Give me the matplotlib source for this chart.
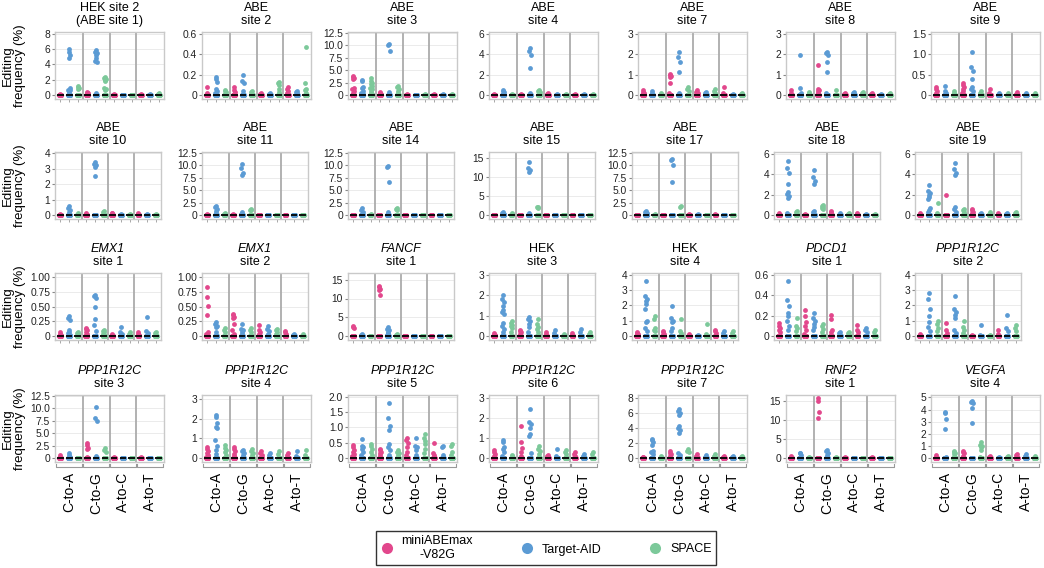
import matplotlib.pyplot as plt
from matplotlib.lines import Line2D
import numpy as np

plt.rcParams['font.family'] = ['Liberation Sans', 'DejaVu Sans']

# ---- data ----
groups = ['C-to-A', 'C-to-G', 'A-to-C', 'A-to-T']
editors = ['miniABEmax\n-V82G', 'Target-AID', 'SPACE']
colors = ['#E2478C', '#5B9BD4', '#7CC99A']

title_top = ['HEK site 2', 'ABE', 'ABE', 'ABE', 'ABE', 'ABE', 'ABE',
             'ABE', 'ABE', 'ABE', 'ABE', 'ABE', 'ABE', 'ABE',
             'EMX1', 'EMX1', 'FANCF', 'HEK', 'HEK', 'PDCD1', 'PPP1R12C',
             'PPP1R12C', 'PPP1R12C', 'PPP1R12C', 'PPP1R12C', 'PPP1R12C', 'RNF2', 'VEGFA']
title_bottom = ['(ABE site 1)', 'site 2', 'site 3', 'site 4', 'site 7', 'site 8', 'site 9',
                'site 10', 'site 11', 'site 14', 'site 15', 'site 17', 'site 18', 'site 19',
                'site 1', 'site 2', 'site 1', 'site 3', 'site 4', 'site 1', 'site 2',
                'site 3', 'site 4', 'site 5', 'site 6', 'site 7', 'site 1', 'site 4']
italic_genes = ['EMX1', 'FANCF', 'PDCD1', 'PPP1R12C', 'RNF2', 'VEGFA']

t125 = ['0', '2.5', '5.0', '7.5', '10.0', '12.5']
t15 = ['0', '5', '10', '15']
t3 = ['0', '1', '2', '3']
t4 = ['0', '1', '2', '3', '4']
t6 = ['0', '2', '4', '6']
t8 = ['0', '2', '4', '6', '8']
t06 = ['0', '0.2', '0.4', '0.6']
t1 = ['0', '0.25', '0.50', '0.75', '1.00']
ytick_labels = [t8, t06, t125, t6, t3, t3, ['0', '0.5', '1.0', '1.5'],
                t4, t125, t125, t15, t125, t6, t6,
                t1, t1, t15, t3, t4, t06, t4,
                t125, t3, ['0', '0.5', '1.0', '1.5', '2.0'], t3, t8, t15, ['0', '1', '2', '3', '4', '5']]
ytop = [8.26, 0.62, 12.7, 6.2, 3.1, 3.1, 1.55,
        4.07, 12.7, 12.7, 16.6, 12.7, 6.2, 6.2,
        1.07, 1.07, 16.8, 3.1, 4.13, 0.62, 4.13,
        12.7, 3.2, 2.06, 3.15, 8.4, 16.7, 5.2]

# non-zero values per panel, groups in order C-to-A, C-to-G, A-to-C, A-to-T
mini = [
    [[0.1, 0.05], [0.4, 0.3, 0.2, 0.1], [0.1, 0.05], [0.1, 0.05]],  # HEK site 2
    [[0.08, 0.02], [0.08, 0.05, 0.03, 0.01], [0.02, 0.01], [0.08, 0.06, 0.04, 0.02]],  # ABE 2
    [[3.8, 3.6, 3.4, 3.2, 1.5, 1.2, 0.8, 0.5, 0.2], [0.6, 0.4, 0.2], [0.3, 0.1], [0.3, 0.1]],  # ABE 3
    [[0.1], [0.1], [0.2, 0.1], [0.1]],  # ABE 4
    [[0.25, 0.15, 0.1], [1.05, 1.0, 0.95, 0.9, 0.6, 0.1], [0.25, 0.15, 0.1], [0.4, 0.1]],  # ABE 7
    [[0.25, 0.1], [1.5, 0.3, 0.25, 0.2, 0.1], [0.1, 0.05], [0.1, 0.05]],  # ABE 8
    [[0.2, 0.15, 0.1, 0.05], [0.3, 0.25, 0.2, 0.15, 0.1, 0.05], [0.15, 0.05], [0.08, 0.03]],  # ABE 9
    [[0.05], [0.1], [0.15, 0.1], [0.1, 0.05]],  # ABE 10
    [[0.3, 0.1], [0.2], [0.1], [0.1]],  # ABE 11
    [[0.1], [0.1], [0.1], [0.1]],  # ABE 14
    [[0.1], [0.1], [0.1], [0.1]],  # ABE 15
    [[0.1], [0.1], [0.2], [0.3]],  # ABE 17
    [[0.2], [0.1], [0.4, 0.3], [0.15, 0.1]],  # ABE 18
    [[0.15], [2.0], [0.6, 0.5, 0.3, 0.2], [0.2, 0.1]],  # ABE 19
    [[0.06, 0.04, 0.02], [0.14, 0.12, 0.1, 0.07, 0.04], [0.04, 0.02], [0.06, 0.04, 0.02]],  # EMX1 1
    [[0.84, 0.67, 0.51, 0.35, 0.06, 0.03], [0.37, 0.35, 0.33, 0.3, 0.2, 0.1, 0.03],
     [0.18, 0.1, 0.07, 0.04], [0.08, 0.06, 0.04]],  # EMX1 2
    [[2.8, 2.5, 2.2], [13.3, 13.0, 12.5, 12.2, 11.0], [0.1], [0.1]],  # FANCF 1
    [[0.15, 0.1, 0.05], [0.3, 0.25, 0.2, 0.1], [0.2, 0.1], [0.15, 0.05]],  # HEK 3
    [[0.25, 0.2, 0.1], [0.3, 0.25, 0.1], [0.1], [0.4, 0.3, 0.2]],  # HEK 4
    [[0.13, 0.1, 0.08, 0.06, 0.04], [0.26, 0.2, 0.14, 0.1, 0.06, 0.02],
     [0.21, 0.17, 0.06, 0.04], [0.11, 0.06, 0.04]],  # PDCD1 1
    [[0.1, 0.05], [0.85, 0.4, 0.2], [0.05], [0.4, 0.1]],  # PPP1R12C 2
    [[0.6, 0.3], [3.0, 2.6, 2.0, 1.8, 0.3], [0.2], [0.2]],  # PPP1R12C 3
    [[0.55, 0.45, 0.35, 0.25, 0.15, 0.05], [0.55, 0.45, 0.35, 0.2, 0.1], [0.35, 0.25, 0.15], [0.25, 0.15]],  # 4
    [[0.42, 0.35, 0.25, 0.2, 0.12, 0.05], [0.3, 0.25, 0.2, 0.15, 0.1],
     [0.67, 0.6, 0.5, 0.35, 0.2, 0.1], [0.48, 0.15, 0.1]],  # PPP1R12C 5
    [[0.4, 0.3, 0.2, 0.1], [1.6, 0.8, 0.5, 0.3, 0.1], [0.15, 0.1], [0.3, 0.2, 0.1]],  # PPP1R12C 6
    [[0.2, 0.1], [0.9, 0.7, 0.5, 0.3], [0.5, 0.3], [0.3, 0.2]],  # PPP1R12C 7
    [[0.6, 0.3], [15.8, 15.2, 12.3, 10.6], [0.2], [0.2]],  # RNF2 1
    [[0.25, 0.1], [0.6, 0.5, 0.4, 0.2], [0.15, 0.05], [0.35, 0.25]],  # VEGFA 4
]

taid = [
    [[6.0, 5.6, 5.2, 4.8, 0.9, 0.7, 0.6, 0.4], [5.9, 5.7, 5.5, 5.2, 4.8, 4.5, 4.3, 0.2], [0.05], [0.15, 0.05]],
    [[0.18, 0.16, 0.13, 0.06, 0.04, 0.02], [0.2, 0.14, 0.12, 0.04], [0.02, 0.01], [0.04, 0.03, 0.02]],
    [[3.1, 2.8, 1.6, 1.4, 0.8, 0.5, 0.2], [10.2, 10.0, 8.8, 0.6, 0.3], [0.1], [0.2, 0.1]],
    [[0.5, 0.4, 0.3, 0.1], [4.6, 4.3, 3.9, 2.7, 0.2], [0.05], [0.05]],
    [[0.2, 0.1], [2.1, 1.85, 1.6, 1.15, 0.1], [0.15, 0.1], [0.05]],
    [[1.95, 0.35, 0.1], [2.1, 2.05, 1.95, 1.6, 1.15, 0.1], [0.15, 0.1], [0.05]],
    [[0.22, 0.1, 0.05], [1.07, 0.7, 0.6, 0.4, 0.2, 0.15, 0.1], [0.05], [0.04]],
    [[0.55, 0.45, 0.35, 0.2], [3.4, 3.3, 3.2, 3.1, 2.5], [0.05], [0.05]],
    [[1.8, 1.6, 1.2, 0.8, 0.4], [10.3, 9.4, 8.5, 8.0, 0.6, 0.3], [0.1], [0.1]],
    [[1.4, 1.0, 0.6, 0.3], [9.9, 9.7, 6.7, 0.7, 0.3], [0.1], [0.1]],
    [[0.8, 0.5, 0.2], [14.0, 12.3, 11.8, 11.2, 0.6], [0.1], [0.1]],
    [[0.9, 0.7, 0.4], [11.3, 11.0, 10.0, 6.6], [0.2], [0.1]],
    [[5.3, 4.6, 4.1, 3.1, 2.3, 2.1, 1.9, 1.7, 0.2], [4.4, 3.7, 3.3, 3.1, 0.4, 0.3], [0.15], [0.1]],
    [[3.0, 2.4, 2.2, 2.0, 1.8, 1.6, 0.7, 0.5, 0.3], [5.1, 4.5, 4.1, 3.9, 0.8, 0.6, 0.3], [0.2, 0.1], [0.2, 0.1]],
    [[0.34, 0.3, 0.27, 0.1, 0.07, 0.05, 0.02], [0.7, 0.68, 0.65, 0.49, 0.29, 0.19, 0.09],
     [0.16, 0.06, 0.03], [0.33, 0.08, 0.05]],
    [[0.24, 0.2, 0.17, 0.15, 0.06], [0.21, 0.12, 0.1, 0.06, 0.03], [0.17, 0.12, 0.08, 0.04], [0.04, 0.02]],
    [[0.5, 0.3], [2.4, 2.0, 1.6, 1.2, 0.8, 0.4], [0.1], [0.1]],
    [[2.0, 1.8, 1.65, 1.5, 1.3, 1.2, 1.1, 0.65, 0.5, 0.35, 0.2], [0.95, 0.85, 0.75, 0.6, 0.45, 0.2],
     [0.3, 0.15], [0.35, 0.2]],
    [[3.6, 2.6, 2.4, 2.3, 2.1, 1.8, 1.0, 0.9, 0.5, 0.3], [1.95, 1.2, 1.0, 0.9, 0.5, 0.3], [0.05], [0.35, 0.2]],
    [[0.54, 0.35, 0.3, 0.23, 0.2, 0.15, 0.1, 0.06], [0.23, 0.18, 0.15, 0.12, 0.09, 0.06],
     [0.04, 0.03], [0.08, 0.06, 0.04]],
    [[2.8, 2.4, 1.8, 1.3, 0.9, 0.6, 0.3], [2.6, 1.8, 1.6, 1.4, 1.2, 0.4, 0.2], [0.7, 0.05], [1.4, 0.5, 0.3]],
    [[1.0, 0.6, 0.2], [10.2, 8.1, 7.5, 0.4], [0.1], [0.1]],
    [[2.2, 2.1, 1.8, 1.6, 1.5, 0.9, 0.6, 0.4, 0.2], [0.4, 0.35, 0.25, 0.15], [0.25, 0.15], [0.35, 0.1]],
    [[0.63, 0.4, 0.35, 0.3, 0.2, 0.1], [1.8, 1.3, 1.05, 0.9, 0.45, 0.35, 0.25, 0.1],
     [0.65, 0.4, 0.35, 0.25, 0.1], [0.38, 0.35, 0.1]],
    [[0.9, 0.8, 0.55, 0.45, 0.3, 0.1], [2.45, 1.8, 1.7, 1.5, 1.2, 1.1, 0.25], [0.45, 0.1], [0.2, 0.1]],
    [[2.6, 2.4, 2.2, 1.8, 1.0, 0.8, 0.6], [6.5, 6.3, 6.0, 5.8, 4.3, 4.0, 3.7, 3.4, 0.7, 0.4], [0.4, 0.2], [0.3, 0.1]],
    [[1.4, 1.2, 0.8], [2.2, 1.8, 1.4, 0.8], [0.1], [0.1]],
    [[3.8, 3.75, 3.2, 2.4, 0.1], [4.7, 4.6, 4.5, 4.1, 2.9], [0.1], [0.3, 0.2]],
]

space = [
    [[1.2, 1.0, 0.9, 0.8], [2.3, 2.2, 2.1, 2.0, 1.9, 0.9, 0.8, 0.7], [0.05], [0.2, 0.15]],
    [[0.05, 0.04, 0.03], [0.04, 0.03], [0.13, 0.12, 0.1, 0.06, 0.03], [0.47, 0.12, 0.06, 0.05, 0.02]],
    [[3.4, 2.8, 2.5, 2.2, 1.8, 1.5, 1.2, 0.8, 0.5, 0.2], [1.8, 1.6, 1.2, 0.8, 0.4], [0.2, 0.1], [0.2, 0.1]],
    [[0.1], [0.5, 0.4, 0.3], [0.05], [0.05]],
    [[0.1], [0.4, 0.3, 0.2], [0.3, 0.2, 0.1], [0.1, 0.05]],
    [[0.15, 0.1], [0.25], [0.15, 0.1], [0.1, 0.05]],
    [[0.1, 0.05], [0.1, 0.05], [0.05], [0.05]],
    [[0.1], [0.25, 0.2], [0.05], [0.05]],
    [[0.5, 0.3], [1.3, 1.1, 1.0], [0.05], [0.05]],
    [[0.3, 0.1], [1.5, 1.3, 1.1], [0.05], [0.05]],
    [[0.4, 0.1], [2.2, 2.0, 1.8], [0.05], [0.05]],
    [[0.2], [1.8, 1.7], [0.1], [0.1]],
    [[0.4, 0.3, 0.1], [1.0, 0.9, 0.8, 0.7, 0.6], [0.2, 0.1], [0.05]],
    [[1.2, 0.2], [0.6, 0.5, 0.3], [0.25, 0.1], [0.3, 0.2]],
    [[0.07, 0.05, 0.03], [0.11, 0.09, 0.07, 0.04], [0.06, 0.04], [0.07, 0.05]],
    [[0.13, 0.1, 0.06], [0.13, 0.1, 0.06], [0.12, 0.1, 0.07, 0.04], [0.03]],
    [[0.1], [0.5, 0.2], [0.1], [0.1]],
    [[0.75, 0.65, 0.55, 0.5, 0.4, 0.2], [0.85, 0.6, 0.45, 0.35, 0.2], [0.1], [0.2, 0.1]],
    [[1.3, 1.1, 0.5, 0.4, 0.3], [1.1, 0.3, 0.2], [0.8, 0.1], [0.35, 0.2]],
    [[0.18, 0.1, 0.08, 0.05], [0.12, 0.1, 0.07, 0.04], [0.04, 0.03], [0.06, 0.04]],
    [[1.0, 0.8, 0.5, 0.3], [1.0, 0.6, 0.4, 0.2], [0.05], [0.7, 0.5, 0.3]],
    [[0.1], [2.0, 1.6, 1.2], [0.1], [0.1]],
    [[0.65, 0.5, 0.4, 0.3, 0.15], [0.45, 0.35, 0.25, 0.15], [0.35, 0.2], [0.4, 0.15]],
    [[0.45, 0.4, 0.3, 0.2, 0.1], [0.25, 0.2, 0.15, 0.1], [0.8, 0.65, 0.55, 0.45, 0.3, 0.15], [0.45, 0.4, 0.2, 0.1]],
    [[0.15, 0.1], [0.6, 0.45, 0.35, 0.2], [0.4, 0.3, 0.2], [0.3, 0.2]],
    [[0.3, 0.1], [1.2, 1.0, 0.8], [0.5, 0.3], [0.3, 0.1]],
    [[0.2], [0.3, 0.1], [0.05], [0.05]],
    [[0.6, 0.5, 0.4, 0.3, 0.1], [1.3, 1.1, 1.0, 0.9, 0.7, 0.1], [0.2, 0.1], [0.15]],
]

zero_reps = 14  # replicates sitting at 0 in every column (dense baseline cluster)

# ---- layout (pixels) ----
W, H = 1044, 568
row_top = [32, 152, 273, 395]
panel_h = 67
lefts_outer = [55, 202, 348, 489, 638, 786, 931]
lefts_inner = [55, 202, 348, 489, 632, 774, 915]
jit = np.array([0.0, -0.07, 0.07, -0.035, 0.035, -0.1, 0.1])

fig = plt.figure(figsize=(W / 100, H / 100), dpi=100)

for p in range(28):
    r, c = divmod(p, 7)
    if r in (0, 3):
        left, width = lefts_outer[c], 109
    else:
        left, width = lefts_inner[c], 106
    top = row_top[r]
    ax = fig.add_axes([left / W, 1 - (top + panel_h) / H, width / W, panel_h / H])

    yt = [float(s) for s in ytick_labels[p]]
    ax.set_ylim(-ytop[p] * 4 / 63, ytop[p])
    ax.set_xlim(-0.6, 11.6)
    ax.set_yticks(yt)
    ax.set_yticklabels(ytick_labels[p], fontsize=7.4, color='#222222')
    for v in yt:
        ax.axhline(v, color='#EBEBEB', lw=0.7, zorder=0)
    for xs in [2.5, 5.5, 8.5]:
        ax.axvline(xs, color='#ABABAB', lw=1.3, zorder=1)

    for e, series in enumerate([mini, taid, space]):
        for g in range(4):
            x0 = g * 3 + e
            vals = list(series[p][g]) + [0.0] * zero_reps
            xs = x0 + jit[np.arange(len(vals)) % len(jit)]
            ax.scatter(xs, vals, s=12, color=colors[e], linewidths=0, zorder=3)
            ax.hlines(np.median(vals), x0 - 0.38, x0 + 0.38, color='black', lw=1.3, zorder=4)

    for sp in ax.spines.values():
        sp.set_color('#C9C9C9')
        sp.set_linewidth(1.0)
    ax.tick_params(axis='y', length=2, width=0.8, color='#888888', pad=1.5)
    if r < 3:
        ax.set_xticks(range(12))
        ax.set_xticklabels([])
        ax.tick_params(axis='x', length=2.5, width=0.6, color='#999999')
    else:
        ax.set_xticks([])
        for g in range(4):
            a, b = g * 3 - 0.45, g * 3 + 2.45
            ax.plot([a, a, b, b], [-0.03, -0.08, -0.08, -0.03], color='#999999', lw=0.8,
                    transform=ax.get_xaxis_transform(), clip_on=False)
            ax.text(g * 3 + 1, -0.15, groups[g], rotation=90, ha='center', va='top',
                    fontsize=10, transform=ax.get_xaxis_transform())

    cx = (left + width / 2) / W
    style = 'italic' if title_top[p] in italic_genes else 'normal'
    fig.text(cx, 1 - (top - 24) / H, title_top[p], ha='center', va='center', fontsize=9, style=style)
    fig.text(cx, 1 - (top - 11) / H, title_bottom[p], ha='center', va='center', fontsize=9)

    if c == 0:
        fig.text(14 / W, 1 - (top + panel_h / 2) / H, 'Editing\nfrequency (%)', rotation=90,
                 ha='center', va='center', fontsize=9.5, linespacing=1.0)

handles = [Line2D([], [], marker='o', linestyle='', markersize=8, markerfacecolor=col,
                  markeredgewidth=0) for col in colors]
leg = fig.legend(handles, editors, ncol=3, loc='center', bbox_to_anchor=(546 / W, 1 - 548 / H),
                 frameon=True, fancybox=False, edgecolor='black', fontsize=9,
                 columnspacing=3.8, handletextpad=0.7, handlelength=1.0, borderpad=0.35)
leg.get_frame().set_linewidth(1.0)
for t in leg.get_texts():
    t.set_multialignment('center')

fig.savefig('out.png', dpi=100)
